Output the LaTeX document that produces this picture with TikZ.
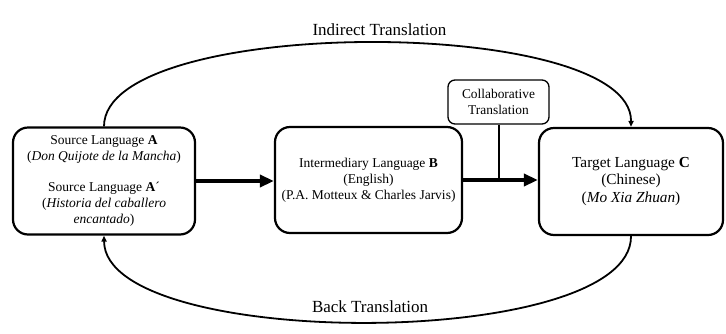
\documentclass[tikz,border=0pt]{standalone}
\usepackage{fontspec}
\setmainfont{Liberation Serif}
\usetikzlibrary{arrows.meta}
\begin{document}
\begin{tikzpicture}[x=1pt,y=-1pt,
  bigbox/.style={draw, line width=2.2pt, rounded corners=15pt, align=center, inner sep=0pt},
  smallbox/.style={draw, line width=1.3pt, rounded corners=7pt, align=center, inner sep=0pt},
  mainarrow/.style={line width=4pt, -{Triangle[length=14pt,width=12pt]}},
  arcarrow/.style={line width=1.8pt, -{Triangle[length=6pt,width=5pt]}},
  plainline/.style={line width=2pt},
  lbl/.style={font=\fontsize{17}{20}\selectfont, inner sep=0pt},
  txt/.style={font=\fontsize{13.5}{16}\selectfont},
]
\useasboundingbox (0,0) rectangle (726,333);

\node[bigbox, txt, minimum width=182pt, minimum height=107pt] (A) at (104,181)
  {Source Language \textbf{A}\\(\textit{Don Quijote de la Mancha})\\[15pt]
   Source Language \textbf{A}´\\(\textit{Historia del caballero}\\\textit{encantado})};
\node[bigbox, txt, minimum width=187pt, minimum height=106pt] (B) at (368.5,180)
  {Intermediary Language \textbf{B}\\(English)\\(P.A. Motteux \& Charles Jarvis)};
\node[bigbox, font=\fontsize{15.3}{17.5}\selectfont, minimum width=184pt, minimum height=107pt] (C) at (631,181.5)
  {Target Language \textbf{C}\\(Chinese)\\(\textit{Mo Xia Zhuan})};
\node[smallbox, font=\fontsize{13.4}{16}\selectfont, minimum width=101pt, minimum height=44pt] (K) at (498.5,102)
  {Collaborative\\Translation};

\draw[mainarrow] (A.east) -- (A.east -| B.west);
\draw[mainarrow] (B.east) -- (B.east -| C.west);
\draw[plainline] (K.south) -- (K.south |- B.east);

\draw[arcarrow] (A.north) .. controls (104,14.7) and (632,14.7) .. (C.north);
\draw[arcarrow] (C.south) .. controls (632,351) and (105,351) .. (A.south);

\node[lbl, anchor=base] (L1) at (379.5,35) {Indirect Translation};
\node[lbl, anchor=base] (L2) at (370,312.5) {Back Translation};
\end{tikzpicture}
\end{document}
